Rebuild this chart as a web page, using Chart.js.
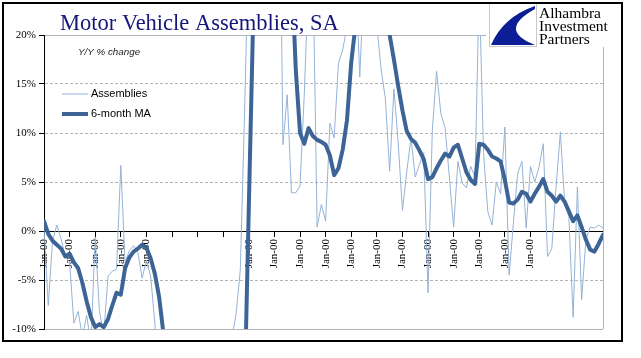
<!DOCTYPE html>
<html><head><meta charset="utf-8">
<script src="https://cdn.jsdelivr.net/npm/chart.js@4.4.1/dist/chart.umd.min.js"></script>
<style>html,body{margin:0;padding:0;background:#fff;}canvas{display:block;}</style>
</head><body>
<canvas id="c" width="641" height="358"></canvas>
<script>
// ---- DATA ----
const chartTitle = 'Motor Vehicle Assemblies, SA';
const subTitle = 'Y/Y % change';
const seriesNames = ['Assemblies', '6-month MA'];
const logoLines = ['Alhambra', 'Investment', 'Partners'];

// Monthly Y/Y % change of assemblies (thin line)
const assemblies = [
  0.3, -7.6, -1.0, 0.6, -0.8, -2.6, -3.2, -9.4, -8.2, -10.8,
  -8.6, -11.5, -0.6, -8.2, -10.6, -4.6, -4.1, -3.9, 6.7, -3.2,
  -2.0, -1.5, -2.2, -4.8, -3.0, -4.6, -9.5, -20, -24, -28,
  -33, -38, -44, -48, -52, -55, -58, -54, -50, -45,
  -38, -30, -22, -15, -11, -8.5, -4.0, 12, 30, 36,
  42, 38, 50, 55, 48, 45, 8.8, 13.9, 3.9, 3.9,
  4.6, 14, 26, 28, 0.4, 2.7, 1.0, 11.0, 9.5, 17.1,
  18.5, 20.8, 30, 27, 15.7, 26, 32, 28, 21, 16.5,
  13.5, 6.1, 14.5, 9.0, 2.1, 6.0, 9.5, 5.5, 6.8, 8.0,
  -6.3, 10.3, 16.3, 12.0, 10.5, 5.5, 0.4, 7.1, 4.9, 4.4,
  6.6, 5.5, 25, 8.0, 2.0, 0.6, 5.0, 3.8, 10.6, -4.5,
  0.8, 5.9, 7.1, 0.3, 6.6, 5.0, 6.5, 8.9, -2.6, -1.8,
  4.5, 10.1, 3.0, 1.5, -8.8, 4.5, -7.0, -0.8, 0.4, 0.3,
  0.6, 0.3
];

// 6-month moving average (thick line)
const movingAvg = [
  1.0, -0.3, -1.0, -1.4, -1.8, -2.6, -2.3, -3.2, -3.8, -5.3,
  -7.2, -8.8, -9.8, -9.5, -9.8, -9.0, -7.6, -6.3, -6.5, -3.8,
  -2.7, -2.1, -1.8, -1.4, -1.7, -2.8, -4.4, -6.8, -10.5, -14,
  -18, -23, -28, -33, -38, -42, -45, -47, -46, -44,
  -41, -37, -33, -29, -25, -21, -18, -16.7, 2.5, 21.3,
  32, 40, 46, 50, 51, 48, 42, 35, 27, 16.5,
  10.0, 8.9, 10.5, 9.7, 9.3, 9.1, 8.8, 7.7, 5.7, 6.4,
  8.3, 11.3, 17.2, 21, 24, 26, 27, 26, 25, 23.5,
  21.5, 20.0, 17.5, 14.8, 12.3, 10.2, 9.4, 9.0, 8.2, 7.3,
  5.3, 5.5, 6.4, 7.2, 7.9, 7.6, 8.5, 8.8, 7.4, 6.0,
  5.2, 4.8, 8.9, 8.8, 8.3, 7.6, 7.4, 7.1, 5.2, 2.9,
  2.8, 3.2, 4.0, 3.8, 3.0, 3.8, 4.5, 5.3, 4.0, 3.6,
  3.0, 3.6, 3.0, 2.0, 1.0, 1.6, 0.4, -0.9, -1.9, -2.1,
  -1.3, -0.4
];

// x tick labels, one for every 6th month (blank where the reference shows none)
const xTickLabels = ['Jan-00','Jan-00','Jan-00','Jan-00','Jan-00','','','','Jan-00','Jan-00',
  'Jan-00','Jan-00','Jan-00','Jan-00','Jan-00','Jan-00','Jan-00','Jan-00','Jan-00','Jan-00'];
const tickStep = 6;
const yTicks = [-10, -5, 0, 5, 10, 15, 20];

// category labels (one per month)
const categories = assemblies.map((_, i) => 'm' + (i + 1));

const decor = {
  id: 'decor',
  beforeDraw(chart) {
    const ctx = chart.ctx;
    ctx.save(); ctx.fillStyle = '#fff'; ctx.fillRect(0, 0, chart.width, chart.height); ctx.restore();
  },
  afterDraw(chart) {
    const {ctx, chartArea: ca} = chart;
    ctx.save();
    // right border of plot
    ctx.strokeStyle = '#B4B4B4'; ctx.lineWidth = 1;
    ctx.beginPath(); ctx.moveTo(Math.round(ca.right) + 0.5, ca.top); ctx.lineTo(Math.round(ca.right) + 0.5, ca.bottom); ctx.stroke();
    // title
    ctx.font = '22.5px "Liberation Serif"'; ctx.fillStyle = '#15157A'; ctx.textBaseline = 'alphabetic'; ctx.textAlign = 'left';
    ctx.fillText(chartTitle, 60, 30);
    // subtitle
    ctx.font = 'italic 9.8px "Liberation Sans"'; ctx.fillStyle = '#222'; ctx.textBaseline = 'middle';
    ctx.fillText(subTitle, 78, 52);
    // legend
    const ly = [94, 114];
    chart.data.datasets.forEach((ds, k) => {
      ctx.strokeStyle = ds.borderColor; ctx.lineWidth = ds.borderWidth; ctx.lineCap = 'butt';
      ctx.beginPath(); ctx.moveTo(62, ly[k]); ctx.lineTo(88, ly[k]); ctx.stroke();
      ctx.fillStyle = '#000'; ctx.font = '11px "Liberation Sans"'; ctx.textBaseline = 'middle';
      ctx.fillText(ds.label, 91, ly[k]);
    });
    // logo
    ctx.fillStyle = '#fff'; ctx.fillRect(486, 5, 128, 42);
    ctx.strokeStyle = '#C8C8C8'; ctx.lineWidth = 1; ctx.strokeRect(489.5, 3.5, 47, 43);
    ctx.fillStyle = '#0B1E96';
    ctx.beginPath();
    ctx.moveTo(491, 45);
    ctx.quadraticCurveTo(503, 17, 535, 6);
    ctx.lineTo(535, 9);
    ctx.quadraticCurveTo(497, 30, 535, 45);
    ctx.closePath(); ctx.fill();
    ctx.fillStyle = '#000'; ctx.font = '15.5px "Liberation Serif"'; ctx.textBaseline = 'alphabetic';
    ctx.fillText(logoLines[0], 539, 18);
    ctx.fillText(logoLines[1], 539, 31);
    ctx.fillText(logoLines[2], 539, 44);
    // outer frame
    ctx.strokeStyle = '#000'; ctx.lineWidth = 2; ctx.strokeRect(3, 3, 619, 338);
    ctx.restore();
  }
};

new Chart(document.getElementById('c'), {
  type: 'line',
  data: {
    labels: categories,
    datasets: [
      {label: seriesNames[0], data: assemblies, borderColor: '#95B3D7', borderWidth: 1, pointRadius: 0,
       tension: 0, fill: false, order: 1, clip: 0, borderJoinStyle: 'round'},
      {label: seriesNames[1], data: movingAvg, borderColor: '#3C6496', borderWidth: 4, pointRadius: 0,
       tension: 0, fill: false, order: 0, clip: 0, borderJoinStyle: 'round', borderCapStyle: 'round'}
    ]
  },
  options: {
    responsive: false, animation: false, devicePixelRatio: 1,
    layout: {padding: {top: 35, bottom: 29, left: 0, right: 38}},
    plugins: {legend: {display: false}, title: {display: false}, tooltip: {enabled: false}},
    scales: {
      x: {
        type: 'category', position: {y: 0},
        grid: {drawOnChartArea: false, drawTicks: true, tickLength: 5, tickColor: '#000', tickWidth: 1},
        border: {color: '#000', width: 1},
        ticks: {
          autoSkip: false, maxRotation: 90, minRotation: 90, padding: 3, color: '#000',
          font: {family: 'Liberation Serif', size: 11},
          callback: (v, i) => (i % tickStep === 0 && i / tickStep < xTickLabels.length) ? xTickLabels[i / tickStep] : null
        }
      },
      y: {
        min: yTicks[0], max: yTicks[yTicks.length - 1],
        afterFit: s => { s.width = 44; },
        afterBuildTicks: s => { s.ticks = yTicks.map(v => ({value: v})); },
        ticks: {callback: v => v + '%', color: '#000', font: {family: 'Liberation Serif', size: 11}, padding: 3},
        grid: {
          color: c => (c.tick && c.tick.value === 0) ? '#000' : '#B4B4B4',
          tickColor: '#000', tickLength: 5, drawTicks: true
        },
        border: {color: '#000', width: 1,
          dash: c => (c.tick && (c.tick.value === 20 || c.tick.value === -10 || c.tick.value === 0)) ? [] : [3, 2]}
      }
    }
  },
  plugins: [decor]
});
</script>
</body></html>
